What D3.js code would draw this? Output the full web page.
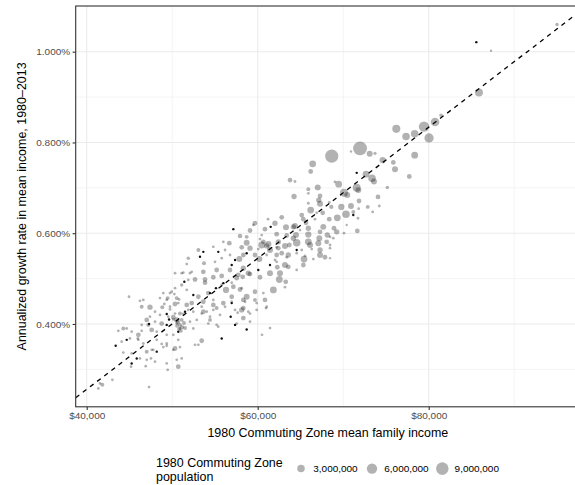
<!DOCTYPE html>
<meta charset="utf-8">
<style>
body { margin: 0; background: #fff; }
svg { display: block; font-family: "Liberation Sans", Arial, Helvetica, sans-serif; }
</style>
<svg width="575" height="485"></svg>
<script src="https://cdn.jsdelivr.net/npm/d3@7/dist/d3.min.js"></script>
<script>

// 1980 commuting zone mean family income (thousand $)
var income = [
  87.29, 95.01, 85.88, 81.44, 80.74, 79.45, 80.04, 78.36, 77.35, 76.21,
  78.36, 74.62, 75.86, 76.06, 77.73, 75.16, 71.97, 68.66, 73.10, 73.72,
  70.91, 66.43, 66.20, 72.67, 73.37, 73.60, 69.47, 69.04, 71.58, 71.77,
  67.02, 64.25, 65.92, 70.09, 70.48, 74.07, 71.85, 67.14, 67.29, 68.37,
  68.61, 69.78, 70.91, 71.81, 72.87, 74.22, 66.20, 67.60, 65.15, 71.18,
  69.31, 68.37, 71.73, 67.67, 68.92, 64.17, 65.34, 73.45, 70.33, 70.41,
  71.65, 69.24, 68.46, 68.46, 66.70, 65.65, 62.81, 59.68, 62.02, 59.10,
  60.85, 63.31, 64.36, 63.39, 64.48, 65.92, 67.29, 55.98, 56.68, 57.93,
  58.71, 60.27, 61.24, 60.47, 62.41, 61.44, 64.56, 63.70, 66.12, 67.09,
  68.07, 67.21, 63.58, 62.81, 64.56, 65.42, 66.51, 67.87, 65.34, 63.19,
  62.29, 60.19, 59.68, 57.85, 56.76, 56.18, 54.81, 55.79, 53.72, 55.20,
  56.76, 58.32, 59.10, 60.27, 61.44, 62.53, 63.28, 60.66, 53.84, 54.81,
  54.22, 56.29, 57.15, 57.93, 56.96, 58.71, 59.68, 58.32, 56.18, 55.20,
  54.04, 60.97, 59.88, 53.64, 54.81, 55.59, 54.42, 55.39, 59.10, 62.02,
  61.05, 58.13, 62.22, 63.19, 53.06, 51.70, 55.01, 53.64, 51.30, 52.08,
  52.67, 53.84, 55.79, 56.96, 57.54, 58.25, 58.90, 62.61, 63.58, 64.56,
  62.22, 59.68, 61.83, 63.19, 60.85, 58.13, 57.35, 58.52, 55.98, 54.81,
  53.45, 53.64, 54.42, 59.88, 61.05, 52.87, 51.30, 50.13, 50.53, 50.91,
  49.74, 49.74, 50.53, 50.71, 51.70, 51.70, 52.47, 57.54, 58.32, 59.10,
  55.20, 44.95, 46.23, 46.62, 47.40, 48.96, 49.47, 50.25, 49.08, 48.84,
  49.74, 50.33, 50.80, 50.33, 48.57, 47.99, 47.40, 47.02, 47.99, 48.77,
  50.13, 50.53, 50.68, 50.91, 51.15, 50.80, 51.38, 51.03, 50.56, 51.50,
  51.11, 52.08, 52.47, 50.13, 50.71, 49.36, 48.19, 47.60, 46.43, 46.04,
  45.26, 44.28, 43.70, 45.97, 44.28, 46.23, 47.02, 47.79, 48.96, 48.77,
  49.36, 50.33, 50.91, 47.52, 47.99, 46.90, 45.18, 51.11, 50.71, 49.47,
  43.00, 41.83, 41.36, 47.29, 53.06, 54.81, 53.45, 54.22, 53.45, 53.06,
  52.67, 51.88, 52.28, 50.33, 49.94, 51.88, 55.79, 57.73, 58.13, 58.32,
  56.96, 57.66, 58.90, 51.88, 51.11, 52.28, 50.33, 51.11, 48.57, 49.36,
  46.43, 50.91, 49.54, 47.20, 44.68, 46.43, 44.09, 45.06, 46.04, 46.62,
  48.19, 49.36, 45.26, 47.02, 47.60, 50.13, 49.36, 50.53, 41.56, 63.78,
  61.21, 60.50, 61.44, 68.46, 64.36, 65.92, 67.29, 65.92, 66.90, 59.49,
  64.95, 65.92, 70.09, 58.71, 60.47, 62.22, 64.17, 68.14, 60.66, 62.41,
  65.92, 68.46, 59.10, 61.05, 65.15, 66.32, 67.29, 62.22, 58.32, 67.29,
  65.53, 68.84, 60.07, 63.39
];

// annualized growth rate in mean income, 1980-2013 (%)
var growth = [
  1.002, 1.060, 0.910, 0.860, 0.845, 0.835, 0.810, 0.819, 0.813, 0.830,
  0.772, 0.761, 0.756, 0.741, 0.725, 0.701, 0.787, 0.770, 0.775, 0.776,
  0.780, 0.753, 0.736, 0.730, 0.721, 0.714, 0.708, 0.713, 0.700, 0.695,
  0.701, 0.681, 0.697, 0.689, 0.684, 0.680, 0.671, 0.673, 0.665, 0.668,
  0.658, 0.658, 0.660, 0.654, 0.658, 0.660, 0.651, 0.645, 0.640, 0.647,
  0.634, 0.631, 0.633, 0.614, 0.611, 0.614, 0.631, 0.647, 0.642, 0.618,
  0.605, 0.603, 0.592, 0.545, 0.631, 0.623, 0.635, 0.622, 0.622, 0.606,
  0.609, 0.613, 0.616, 0.595, 0.596, 0.597, 0.603, 0.581, 0.578, 0.594,
  0.579, 0.587, 0.576, 0.574, 0.567, 0.563, 0.579, 0.574, 0.574, 0.578,
  0.581, 0.589, 0.552, 0.556, 0.556, 0.543, 0.543, 0.547, 0.530, 0.530,
  0.525, 0.543, 0.552, 0.543, 0.552, 0.563, 0.570, 0.545, 0.534, 0.519,
  0.519, 0.523, 0.510, 0.503, 0.512, 0.498, 0.493, 0.468, 0.498, 0.503,
  0.468, 0.475, 0.482, 0.476, 0.460, 0.460, 0.453, 0.435, 0.438, 0.435,
  0.427, 0.435, 0.446, 0.449, 0.453, 0.420, 0.409, 0.394, 0.423, 0.541,
  0.552, 0.569, 0.569, 0.572, 0.563, 0.532, 0.537, 0.515, 0.513, 0.512,
  0.498, 0.491, 0.506, 0.491, 0.501, 0.504, 0.512, 0.512, 0.526, 0.519,
  0.537, 0.471, 0.475, 0.481, 0.453, 0.431, 0.431, 0.449, 0.446, 0.442,
  0.438, 0.427, 0.416, 0.431, 0.438, 0.409, 0.422, 0.415, 0.401, 0.390,
  0.438, 0.468, 0.457, 0.446, 0.475, 0.442, 0.427, 0.401, 0.413, 0.405,
  0.398, 0.460, 0.451, 0.453, 0.437, 0.468, 0.457, 0.466, 0.444, 0.437,
  0.432, 0.444, 0.454, 0.423, 0.420, 0.427, 0.416, 0.409, 0.405, 0.401,
  0.410, 0.409, 0.404, 0.398, 0.393, 0.389, 0.402, 0.385, 0.396, 0.391,
  0.409, 0.405, 0.390, 0.376, 0.365, 0.376, 0.383, 0.387, 0.385, 0.376,
  0.383, 0.390, 0.385, 0.368, 0.337, 0.324, 0.339, 0.343, 0.349, 0.356,
  0.352, 0.346, 0.349, 0.324, 0.317, 0.307, 0.306, 0.324, 0.306, 0.299,
  0.277, 0.266, 0.258, 0.261, 0.460, 0.431, 0.423, 0.401, 0.363, 0.354,
  0.354, 0.431, 0.446, 0.479, 0.471, 0.497, 0.486, 0.508, 0.479, 0.453,
  0.449, 0.425, 0.427, 0.545, 0.512, 0.515, 0.512, 0.486, 0.457, 0.453,
  0.438, 0.423, 0.416, 0.398, 0.390, 0.398, 0.361, 0.368, 0.365, 0.357,
  0.365, 0.357, 0.335, 0.321, 0.343, 0.343, 0.313, 0.321, 0.269, 0.717,
  0.631, 0.376, 0.391, 0.567, 0.714, 0.688, 0.682, 0.666, 0.645, 0.618,
  0.607, 0.611, 0.600, 0.592, 0.596, 0.598, 0.589, 0.596, 0.581, 0.581,
  0.581, 0.574, 0.567, 0.572, 0.563, 0.565, 0.563, 0.552, 0.552, 0.552,
  0.550, 0.589, 0.565, 0.547
];

// 1980 commuting zone population (millions)
var population = [
  0.2, 0.5, 3.4, 0.5, 4.0, 6.0, 4.7, 3.0, 3.0, 3.5,
  2.4, 2.0, 1.1, 1.8, 1.1, 0.5, 11, 10, 1.8, 0.4,
  0.2, 2.4, 1.1, 2.4, 3.0, 1.8, 2.4, 0.3, 3.4, 1.8,
  1.8, 1.4, 0.7, 3.4, 1.8, 1.1, 1.1, 1.4, 1.8, 0.3,
  0.8, 2.0, 1.8, 0.3, 0.7, 0.3, 2.4, 1.1, 1.1, 0.7,
  2.4, 1.1, 0.3, 1.8, 1.1, 1.4, 1.1, 0.3, 3.0, 0.2,
  1.1, 1.4, 0.3, 0.2, 0.3, 1.1, 1.1, 1.1, 1.4, 1.1,
  1.1, 1.8, 1.8, 1.1, 1.8, 2.0, 1.1, 0.3, 1.1, 1.0,
  1.8, 0.3, 2.0, 2.4, 1.1, 1.8, 3.0, 1.1, 1.8, 1.8,
  1.1, 1.8, 1.4, 1.1, 0.3, 2.4, 0.3, 1.1, 1.1, 1.8,
  1.1, 1.8, 1.1, 1.8, 0.3, 0.3, 0.3, 0.3, 0.7, 1.1,
  1.1, 1.4, 1.1, 1.1, 1.8, 2.4, 1.1, 0.3, 1.1, 1.1,
  1.1, 2.0, 1.1, 1.1, 1.1, 1.8, 0.7, 1.1, 0.3, 0.7,
  0.3, 0.3, 0.3, 1.1, 0.3, 0.3, 0.7, 0.3, 0.3, 0.3,
  0.3, 1.1, 0.3, 1.8, 0.7, 0.3, 0.3, 1.1, 0.3, 0.3,
  1.1, 1.1, 1.1, 0.3, 1.1, 1.1, 1.4, 1.8, 1.1, 0.3,
  0.3, 1.1, 2.4, 0.3, 1.1, 1.4, 0.3, 0.3, 1.1, 1.1,
  0.3, 1.1, 0.3, 0.3, 0.3, 0.3, 0.3, 1.1, 0.3, 0.3,
  0.3, 0.3, 0.7, 0.3, 0.3, 1.1, 0.3, 0.3, 1.1, 0.3,
  0.3, 0.3, 0.3, 0.3, 1.4, 0.3, 0.7, 0.3, 0.3, 0.7,
  0.3, 1.1, 0.3, 0.3, 0.3, 0.3, 0.3, 1.1, 0.3, 1.1,
  0.3, 1.4, 0.8, 0.7, 0.8, 0.6, 0.7, 0.6, 0.6, 0.7,
  0.7, 0.3, 0.3, 0.3, 0.3, 0.3, 0.3, 1.1, 0.3, 1.1,
  0.3, 0.7, 0.3, 0.3, 0.3, 0.3, 0.7, 0.3, 0.3, 0.3,
  0.3, 1.1, 0.3, 0.3, 0.3, 0.3, 0.3, 0.3, 1.1, 0.3,
  0.3, 0.7, 0.3, 0.3, 1.1, 0.3, 0.3, 0.3, 1.1, 0.3,
  0.3, 0.3, 1.1, 0.3, 0.3, 0.3, 0.3, 1.1, 0.3, 1.1,
  0.3, 0.3, 0.3, 0.5, 0.3, 0.3, 0.3, 0.5, 0.3, 0.3,
  0.7, 0.7, 0.3, 0.7, 0.3, 0.3, 0.3, 0.3, 0.3, 0.3,
  0.3, 0.3, 0.3, 0.3, 0.3, 0.3, 0.3, 0.3, 0.3, 1.1,
  0.3, 0.3, 0.3, 0.3, 0.3, 0.3, 1.1, 0.3, 0.3, 0.3,
  0.3, 1.4, 0.3, 0.7, 0.3, 1.1, 1.4, 1.4, 1.1, 1.4,
  2.4, 0.3, 1.4, 1.4, 0.3, 0.3, 1.4, 1.1, 1.1, 1.8,
  0.3, 0.3, 0.3, 0.3
];

// small dark markers
var darkIncome = [
  85.57, 71.58, 71.18, 61.52, 57.15, 58.71, 57.35, 55.39, 53.64, 60.07,
  55.12, 56.84, 57.35, 51.42, 64.56, 53.25, 61.44, 56.96, 52.47, 58.71,
  55.79, 47.29, 49.63, 49.36, 50.71, 44.68, 43.39, 45.85, 48.19, 45.26,
  54.42, 51.50, 56.96, 55.98, 49.36
];
var darkGrowth = [
  1.021, 0.733, 0.640, 0.614, 0.609, 0.556, 0.541, 0.559, 0.559, 0.519,
  0.479, 0.416, 0.398, 0.493, 0.563, 0.548, 0.530, 0.446, 0.464, 0.388,
  0.368, 0.400, 0.410, 0.422, 0.383, 0.365, 0.352, 0.324, 0.339, 0.313,
  0.468, 0.427, 0.530, 0.490, 0.398
];

// dashed fit line: growth = intercept + slope * income
var fitIntercept = -0.3217,
    fitSlope = 0.01444;

var xTicks = [40, 60, 80],
    xMinor = [50, 70, 90],
    yTicks = [0.4, 0.6, 0.8, 1.0],
    yMinor = [0.3, 0.5, 0.7, 0.9],
    legendPop = [3, 6, 9];

var svg = d3.select("svg"),
    panel = {left: 75.7, top: 6, right: 580, bottom: 406.8},
    width = panel.right - panel.left,
    height = panel.bottom - panel.top;

var x = d3.scaleLinear().domain([38.713, 97.696]).range([panel.left, panel.right]),
    y = d3.scaleLinear().domain([0.2175, 1.1007]).range([panel.bottom, panel.top]),
    r = d3.scaleSqrt().domain([0, 9]).range([0.3, 6.3]);

svg.append("defs").append("clipPath")
    .attr("id", "clip")
  .append("rect")
    .attr("x", panel.left)
    .attr("y", panel.top)
    .attr("width", width)
    .attr("height", height);

var grid = svg.append("g");

grid.selectAll(".xminor").data(xMinor).enter().append("line")
    .attr("x1", x).attr("x2", x)
    .attr("y1", panel.top).attr("y2", panel.bottom)
    .attr("stroke", "#ebebeb").attr("stroke-width", 0.55);

grid.selectAll(".yminor").data(yMinor).enter().append("line")
    .attr("y1", y).attr("y2", y)
    .attr("x1", panel.left).attr("x2", panel.right)
    .attr("stroke", "#ebebeb").attr("stroke-width", 0.55);

grid.selectAll(".xmajor").data(xTicks).enter().append("line")
    .attr("x1", x).attr("x2", x)
    .attr("y1", panel.top).attr("y2", panel.bottom)
    .attr("stroke", "#ebebeb").attr("stroke-width", 1.1);

grid.selectAll(".ymajor").data(yTicks).enter().append("line")
    .attr("y1", y).attr("y2", y)
    .attr("x1", panel.left).attr("x2", panel.right)
    .attr("stroke", "#ebebeb").attr("stroke-width", 1.1);

var plot = svg.append("g").attr("clip-path", "url(#clip)");

plot.selectAll(".cz").data(d3.range(income.length)).enter().append("circle")
    .attr("cx", function(i) { return x(income[i]); })
    .attr("cy", function(i) { return y(growth[i]); })
    .attr("r", function(i) { return r(population[i]); })
    .attr("fill", "#000")
    .attr("fill-opacity", 0.3);

plot.selectAll(".dark").data(d3.range(darkIncome.length)).enter().append("circle")
    .attr("cx", function(i) { return x(darkIncome[i]); })
    .attr("cy", function(i) { return y(darkGrowth[i]); })
    .attr("r", 1.2)
    .attr("fill", "#111");

plot.append("path")
    .datum(x.domain())
    .attr("fill", "none")
    .attr("stroke", "#000")
    .attr("stroke-width", 1.3)
    .attr("stroke-dasharray", "4.5,4.5")
    .attr("d", d3.line()
        .x(function(d) { return x(d); })
        .y(function(d) { return y(fitIntercept + fitSlope * d); }));

svg.append("rect")
    .attr("x", panel.left)
    .attr("y", panel.top)
    .attr("width", width)
    .attr("height", height)
    .attr("fill", "none")
    .attr("stroke", "#333")
    .attr("stroke-width", 1.1);

var xAxis = svg.append("g")
    .attr("transform", "translate(0," + panel.bottom + ")")
    .call(d3.axisBottom(x).tickValues(xTicks).tickSize(3.1).tickPadding(2.5)
      .tickFormat(function(d) { return d3.format("$,")(d * 1000); }));

var yAxis = svg.append("g")
    .attr("transform", "translate(" + panel.left + ",0)")
    .call(d3.axisLeft(y).tickValues(yTicks).tickSize(3.1).tickPadding(2.5)
      .tickFormat(function(d) { return d3.format(".3f")(d) + "%"; }));

[xAxis, yAxis].forEach(function(a) {
  a.select(".domain").remove();
  a.selectAll(".tick line").attr("stroke", "#333").attr("stroke-width", 1.1);
  a.selectAll(".tick text")
      .attr("fill", "#4d4d4d")
      .style("font-size", "9.97px")
      .style("font-family", "'Liberation Sans', Arial, sans-serif");
});

svg.append("text")
    .attr("x", (panel.left + panel.right) / 2)
    .attr("y", 436.7)
    .attr("text-anchor", "middle")
    .style("font-size", "12.46px")
    .text("1980 Commuting Zone mean family income");

svg.append("text")
    .attr("transform", "translate(26," + (panel.top + panel.bottom) / 2 + ") rotate(-90)")
    .attr("text-anchor", "middle")
    .style("font-size", "12.46px")
    .text("Annualized growth rate in mean income, 1980\u20132013");

// legend
var legend = svg.append("g");

legend.append("text")
    .attr("x", 156)
    .attr("y", 466.7)
    .style("font-size", "12.46px")
    .text("1980 Commuting Zone");

legend.append("text")
    .attr("x", 156)
    .attr("y", 480.7)
    .style("font-size", "12.46px")
    .text("population");

var keyX = [301, 372, 442.3];

legend.selectAll(".key").data(legendPop).enter().append("circle")
    .attr("cx", function(d, i) { return keyX[i]; })
    .attr("cy", 468.6)
    .attr("r", function(d) { return r(d); })
    .attr("fill", "#000")
    .attr("fill-opacity", 0.3);

legend.selectAll(".label").data(legendPop).enter().append("text")
    .attr("x", function(d, i) { return keyX[i] + 12.3; })
    .attr("y", 472.3)
    .style("font-size", "9.97px")
    .text(function(d) { return d3.format(",")(d * 1e6); });

</script>
